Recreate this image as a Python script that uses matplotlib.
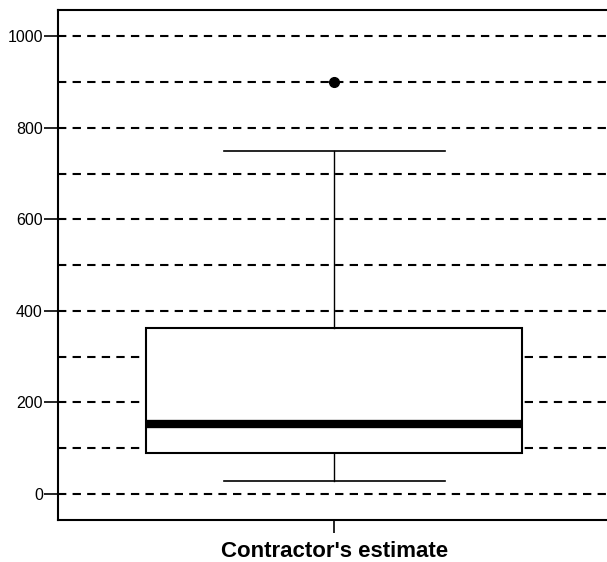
import matplotlib.pyplot as plt

plt.rcParams['font.family'] = ['Liberation Sans', 'DejaVu Sans']

# box plot summary
label = "Contractor's estimate"
q1, median, q3 = 90, 153, 362
whisker_low, whisker_high = 28, 750
outliers = [900]
yticks = [0, 200, 400, 600, 800, 1000]
grid_levels = [0, 100, 200, 300, 400, 500, 600, 700, 800, 900, 1000]

fig = plt.figure(figsize=(6.07, 5.62), dpi=100)
ax = fig.add_axes([0.0956, 0.0747, 0.91, 0.907])

for g in grid_levels:
    ax.axhline(g, color='black', lw=1.5, ls=(0, (4, 3)), zorder=1)

stats = [dict(label=label, med=median, q1=q1, q3=q3,
              whislo=whisker_low, whishi=whisker_high, fliers=outliers)]
ax.bxp(stats, positions=[1], widths=0.68, patch_artist=True,
       boxprops=dict(facecolor='white', edgecolor='black', lw=1.5),
       medianprops=dict(color='black', lw=6, solid_capstyle='butt'),
       whiskerprops=dict(color='black', lw=1),
       capprops=dict(color='black', lw=1.2),
       flierprops=dict(marker='o', markerfacecolor='black',
                       markeredgecolor='black', markersize=7),
       capwidths=0.4, zorder=3)

ax.set_xlim(0.5, 1.5)
ax.set_ylim(-57, 1057)
ax.set_yticks(yticks)
ax.set_xticks([1])
ax.set_xticklabels([label], fontweight='bold', fontsize=16)
ax.tick_params(axis='y', direction='out', length=10, width=1.2,
               labelsize=11.5, colors='black', pad=1)
ax.tick_params(axis='x', direction='out', length=9, width=1.2,
               colors='black', pad=6)
for s in ax.spines.values():
    s.set_linewidth(1.5)

fig.savefig('out.png', dpi=100)
